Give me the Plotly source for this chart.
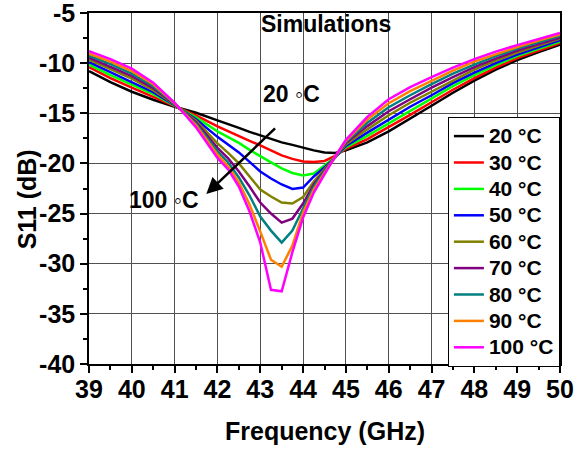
import plotly.graph_objects as go

freq = [39, 39.5, 40, 40.5, 41, 41.5, 42, 42.25, 42.5, 42.75, 43, 43.25, 43.5, 43.75,
        44, 44.25, 44.5, 44.75, 45, 45.5, 46, 46.5, 47, 47.5, 48, 48.5, 49, 49.5, 50]

s11_20 = [-10.8, -11.9, -12.85, -13.65, -14.35, -14.95, -15.7, -16.05, -16.45, -16.85, -17.2, -17.55, -17.9, -18.15,
          -18.45, -18.7, -18.9, -18.95, -18.7, -17.9, -16.8, -15.55, -14.25, -12.95, -11.75, -10.65, -9.7, -8.9, -8.15]
s11_30 = [-10.4, -11.5, -12.45, -13.35, -14.3, -15.2, -16.3, -16.8, -17.25, -17.75, -18.2, -18.7, -19.2, -19.55,
          -19.8, -19.85, -19.75, -19.25, -18.55, -17.58, -16.4, -15.15, -13.9, -12.65, -11.5, -10.45, -9.5, -8.75, -8.0]
s11_40 = [-10.15, -11.2, -12.15, -13.1, -14.25, -15.4, -16.8, -17.35, -17.95, -18.65, -19.3, -19.9, -20.5, -20.95,
          -21.2, -21.0, -20.2, -19.35, -18.4, -17.25, -16.0, -14.75, -13.55, -12.3, -11.2, -10.2, -9.3, -8.6, -7.85]
s11_50 = [-9.9, -10.9, -11.85, -12.9, -14.2, -15.6, -17.35, -18.1, -18.9, -19.85, -20.8, -21.5, -22.1, -22.55,
          -22.4, -21.3, -20.4, -19.4, -18.25, -16.93, -15.6, -14.35, -13.2, -12.0, -10.95, -10.0, -9.15, -8.4, -7.7]
s11_60 = [-9.65, -10.6, -11.55, -12.7, -14.15, -15.75, -18.0, -18.95, -20.0, -21.3, -22.6, -23.3, -23.9, -24.0,
          -23.35, -21.8, -20.55, -19.4, -18.1, -16.6, -15.2, -13.95, -12.85, -11.7, -10.65, -9.75, -8.95, -8.25, -7.55]
s11_70 = [-9.45, -10.35, -11.3, -12.5, -14.1, -15.9, -18.45, -19.5, -20.8, -22.3, -23.9, -25.0, -25.9, -25.5,
          -24.0, -22.1, -20.7, -19.4, -17.95, -16.28, -14.8, -13.6, -12.45, -11.4, -10.4, -9.55, -8.75, -8.1, -7.45]
s11_80 = [-9.25, -10.1, -11.05, -12.3, -14.05, -16.05, -18.8, -19.9, -21.4, -23.2, -25.3, -26.7, -27.9, -26.7,
          -24.5, -22.35, -20.8, -19.4, -17.85, -15.95, -14.4, -13.2, -12.1, -11.05, -10.15, -9.3, -8.55, -7.9, -7.3]
s11_90 = [-9.05, -9.85, -10.8, -12.1, -14.0, -16.2, -19.1, -20.3, -21.9, -24.1, -26.8, -29.6, -30.3, -28.2,
          -24.9, -22.6, -20.95, -19.35, -17.75, -15.63, -14.0, -12.8, -11.75, -10.75, -9.85, -9.1, -8.4, -7.75, -7.15]
s11_100 = [-8.8, -9.6, -10.55, -11.95, -13.95, -16.4, -19.45, -20.6, -22.3, -24.8, -27.9, -32.6, -32.75, -28.85,
           -25.4, -22.9, -21.1, -19.3, -17.65, -15.35, -13.6, -12.4, -11.4, -10.45, -9.6, -8.85, -8.2, -7.6, -7.0]

series_names = ["20 °C", "30 °C", "40 °C", "50 °C", "60 °C", "70 °C", "80 °C", "90 °C", "100 °C"]
series_values = [s11_20, s11_30, s11_40, s11_50, s11_60, s11_70, s11_80, s11_90, s11_100]
series_colors = ["#000000", "#FF0000", "#00FF00", "#0000FF", "#808000",
                 "#800080", "#008080", "#FF8000", "#FF00FF"]

x_ticks = [39, 40, 41, 42, 43, 44, 45, 46, 47, 48, 49, 50]
y_ticks = [-40, -35, -30, -25, -20, -15, -10, -5]
y_tick_labels = ["-40", "-35", "-30", "-25", "-20", "-15", "-10", "-5"]

FONT = "Liberation Sans, Arial, sans-serif"

fig = go.Figure()
for name, vals, col in zip(series_names, series_values, series_colors):
    fig.add_trace(go.Scatter(x=freq, y=vals, mode="lines",
                             name='<span style="font-size:21px">' + name + '</span>',
                             line=dict(color=col, width=2.5)))

axis_common = dict(
    showline=True, linecolor="black", linewidth=1.5, mirror=True,
    showgrid=True, gridcolor="#505050", gridwidth=1.2,
    ticks="outside", ticklen=7, tickwidth=1.5, tickcolor="black",
    tickfont=dict(family=FONT, size=25, color="black", weight="bold"),
    zeroline=False, automargin=False, ticklabeloverflow="allow",
)

fig.update_layout(
    width=575, height=452,
    margin=dict(l=89, r=15, t=13, b=88, autoexpand=False),
    paper_bgcolor="white", plot_bgcolor="white",
    font=dict(family=FONT, color="black"),
    xaxis=dict(range=[39, 50], tickmode="array", tickvals=x_ticks,
               ticklabelstandoff=-5,
               minor=dict(dtick=0.5, tick0=39, ticks="outside", ticklen=4, tickwidth=1.5,
                          tickcolor="black", showgrid=False),
               **axis_common),
    yaxis=dict(range=[-40, -5], tickmode="array", tickvals=y_ticks, ticktext=y_tick_labels,
               minor=dict(dtick=2.5, tick0=-40, ticks="outside", ticklen=4, tickwidth=1.5,
                          tickcolor="black", showgrid=False),
               **axis_common),
    legend=dict(x=0.762, y=0.704, xanchor="left", yanchor="top",
                bgcolor="white", bordercolor="black", borderwidth=1,
                font=dict(family=FONT, size=18, color="black", weight="bold"),
                tracegroupgap=0),
    showlegend=True,
)

fig.add_annotation(text="Frequency (GHz)", xref="paper", yref="paper",
                   x=0.5, y=-0.19, xanchor="center", yanchor="middle", showarrow=False,
                   font=dict(family=FONT, size=25, weight="bold"))
fig.add_annotation(text="S11 (dB)", xref="paper", yref="paper", textangle=-90,
                   x=-0.131, y=0.47, xanchor="center", yanchor="middle", showarrow=False,
                   font=dict(family=FONT, size=25, weight="bold"))
fig.add_annotation(text="Simulations", x=44.54, y=-6.1, xref="x", yref="y",
                   showarrow=False, font=dict(family=FONT, size=23, weight="bold"))
fig.add_annotation(text="20 \u25e6C", x=43.72, y=-13.1, xref="x", yref="y",
                   showarrow=False, font=dict(family=FONT, size=23, weight="bold"))
fig.add_annotation(text="100 \u25e6C", x=40.76, y=-23.6, xref="x", yref="y",
                   showarrow=False, font=dict(family=FONT, size=23, weight="bold"))
fig.add_annotation(text="", x=41.74, y=-23.06, ax=43.38, ay=-16.37,
                   xref="x", yref="y", axref="x", ayref="y",
                   showarrow=True, arrowhead=2, arrowsize=1.3, arrowwidth=2.5, arrowcolor="black")

fig.write_html("out.html")
